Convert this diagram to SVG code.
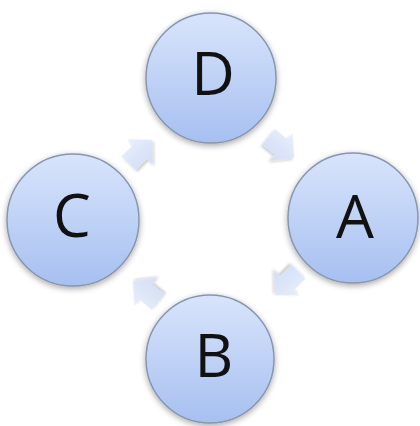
<svg xmlns="http://www.w3.org/2000/svg" width="420" height="426" viewBox="0 0 420 426">
  <defs>
    <linearGradient id="cg" x1="0" y1="0" x2="0" y2="1">
      <stop offset="0" stop-color="#d8e4fb"/>
      <stop offset="1" stop-color="#a7c0f1"/>
    </linearGradient>
    <linearGradient id="ag" x1="0" y1="0" x2="0" y2="1">
      <stop offset="0" stop-color="#e6edfb"/>
      <stop offset="1" stop-color="#cddbf6"/>
    </linearGradient>
    <filter id="sh" x="-20%" y="-20%" width="140%" height="140%">
      <feGaussianBlur in="SourceAlpha" stdDeviation="3"/>
      <feOffset dx="0" dy="2" result="b"/>
      <feComponentTransfer><feFuncA type="linear" slope="0.35"/></feComponentTransfer>
      <feMerge><feMergeNode/><feMergeNode in="SourceGraphic"/></feMerge>
    </filter>
    <filter id="ash" x="-40%" y="-40%" width="180%" height="180%">
      <feGaussianBlur in="SourceAlpha" stdDeviation="1.5"/>
      <feOffset dx="0" dy="2" result="b"/>
      <feComponentTransfer><feFuncA type="linear" slope="0.25"/></feComponentTransfer>
      <feMerge><feMergeNode/><feMergeNode in="SourceGraphic"/></feMerge>
    </filter>
    <path id="arr" d="M-16,-10 L0,-10 L0,-18 L17,0 L0,18 L0,10 L-16,10 Z"/>
  </defs>
  <style>
    .node circle { fill: url(#cg); stroke: #8696b0; stroke-width: 1.5; filter: url(#sh); }
    .node text { font-family: "Open Sans", "Liberation Sans", sans-serif; font-size: 60px; fill: #111; text-anchor: middle; }
    .conn use { fill: url(#ag); filter: url(#ash); opacity: 0.9; }
  </style>
  <rect width="420" height="426" fill="#ffffff"/>
  <g id="connectors" class="conn">
    <use href="#arr" transform="translate(281,147) rotate(40)"/>
    <use href="#arr" transform="translate(287,283) rotate(135)"/>
    <use href="#arr" transform="translate(146,292) rotate(220)"/>
    <use href="#arr" transform="translate(140,152) rotate(-45)"/>
  </g>
  <g id="node-D" class="node">
    <circle cx="211" cy="78" r="65"/>
    <text x="213" y="95">D</text>
  </g>
  <g id="node-A" class="node">
    <circle cx="353" cy="218" r="65"/>
    <text x="355" y="238">A</text>
  </g>
  <g id="node-B" class="node">
    <circle cx="210" cy="359" r="64"/>
    <text x="214" y="377">B</text>
  </g>
  <g id="node-C" class="node">
    <circle cx="73" cy="220" r="66"/>
    <text x="72" y="237">C</text>
  </g>
</svg>
